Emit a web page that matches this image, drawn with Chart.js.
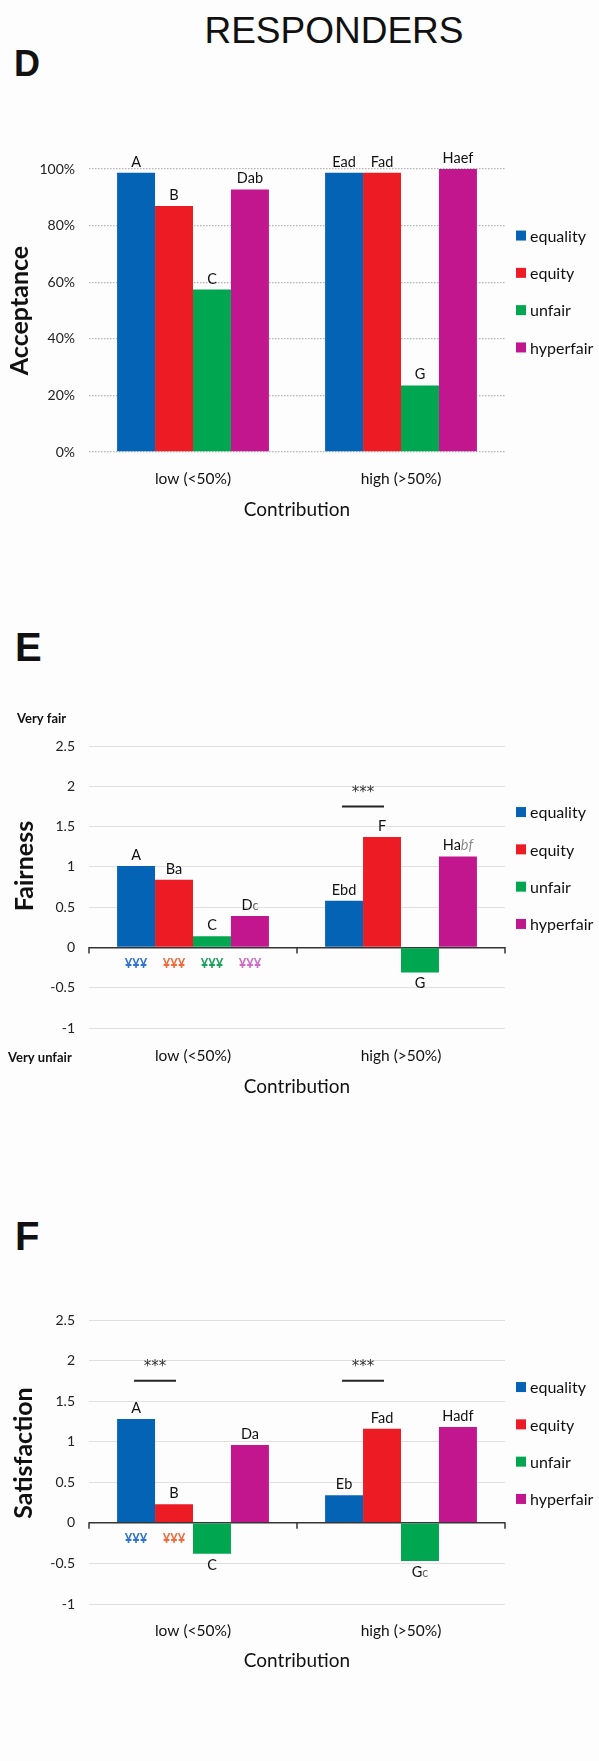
<!DOCTYPE html>
<html>
<head>
<meta charset="utf-8">
<title>Responders</title>
<script src="https://cdn.jsdelivr.net/npm/chart.js@4.4.0/dist/chart.umd.min.js"></script>
<style>
  html, body { margin: 0; padding: 0; background: #fdfdfd; }
  body { width: 599px; height: 1761px; position: relative; overflow: hidden; }
  .title { position: absolute; left: 0; width: 668px; top: 12px; text-align: center;
           font: 37px "Liberation Sans", Arial, sans-serif; line-height: 1; color: #111; }
  .panel { position: absolute; font: bold 40px "Liberation Sans", Arial, sans-serif; line-height: 1; color: #111; }
  canvas { position: absolute; left: 0; }
</style>
</head>
<body>
<div class="title">RESPONDERS</div>
<div class="panel" style="left:14px; top:46px; font-size:36px">D</div>
<div class="panel" style="left:15px; top:627px">E</div>
<div class="panel" style="left:15px; top:1216px">F</div>
<canvas id="chartD" width="599" height="400" style="top:129px"></canvas>
<canvas id="chartE" width="599" height="400" style="top:706px"></canvas>
<canvas id="chartF" width="599" height="400" style="top:1280px"></canvas>

<script>
// ---- data ----
const categories = ['low (<50%)', 'high (>50%)'];
const seriesNames = ['equality', 'equity', 'unfair', 'hyperfair'];
const seriesColors = ['#0563b6', '#ed1c24', '#00a650', '#c1168d'];
const markColors = ['#2f72d4', '#f26a3c', '#1aa15c', '#cf6cc6'];

// D - acceptance rate (%)
const acceptEquality  = [98.7, 98.7];
const acceptEquity    = [86.9, 98.7];
const acceptUnfair    = [57.4, 23.5];
const acceptHyperfair = [92.8, 100];
const acceptTicks = [0, 20, 40, 60, 80, 100];
const acceptLetters = [['A', 'Ead'], ['B', 'Fad'], ['C', 'G'], ['Dab', 'Haef']];

// E - perceived fairness
const fairEquality  = [1.01, 0.58];
const fairEquity    = [0.84, 1.37];
const fairUnfair    = [0.14, -0.31];
const fairHyperfair = [0.39, 1.13];
const fairLetters = [['A', 'Ebd'], ['Ba', 'F'], ['C', 'G'], ['D{c}', 'Ha[bf]']];
const fairWithin = [[true, false], [true, false], [true, false], [true, false]];
const fairBrackets = [{ group: 1, from: 0, to: 1, level: 1.75, stars: '***' }];

// F - satisfaction
const satisEquality  = [1.28, 0.34];
const satisEquity    = [0.23, 1.16];
const satisUnfair    = [-0.38, -0.47];
const satisHyperfair = [0.96, 1.18];
const satisLetters = [['A', 'Eb'], ['B', 'Fad'], ['C', 'G{c}'], ['Da', 'Hadf']];
const satisWithin = [[true, false], [true, false], [false, false], [false, false]];
const satisBrackets = [
  { group: 0, from: 0, to: 1, level: 1.75, stars: '***' },
  { group: 1, from: 0, to: 1, level: 1.75, stars: '***' }
];

const scoreTicks = [-1, -0.5, 0, 0.5, 1, 1.5, 2, 2.5];

// ---- helpers ----
const FONT = 'Lato, "Open Sans", sans-serif';
Chart.defaults.font.family = FONT;

// "Ha[bf]" -> italic grey part, "D{c}" -> small grey part
function parseLetters(str) {
  const out = [];
  const re = /\[([^\]]*)\]|\{([^}]*)\}|([^\[\{]+)/g;
  let m;
  while ((m = re.exec(str))) {
    if (m[1] !== undefined) out.push([m[1], 'i']);
    else if (m[2] !== undefined) out.push([m[2], 's']);
    else out.push([m[3], 'n']);
  }
  return out;
}
const segStyle = {
  n: { font: '14.5px ' + FONT, color: '#111' },
  i: { font: 'italic 14.5px ' + FONT, color: '#8c8c8c' },
  s: { font: '12.5px ' + FONT, color: '#666' }
};
function drawSegments(ctx, segs, cx, baseY) {
  let total = 0;
  const widths = segs.map(([t, s]) => { ctx.font = segStyle[s].font; const w = ctx.measureText(t).width; total += w; return w; });
  let x = cx - total / 2;
  ctx.textAlign = 'left';
  ctx.textBaseline = 'alphabetic';
  segs.forEach(([t, s], k) => {
    ctx.font = segStyle[s].font;
    ctx.fillStyle = segStyle[s].color;
    ctx.fillText(t, x, baseY);
    x += widths[k];
  });
}

const panelDecor = {
  id: 'panelDecor',
  afterDatasetsDraw(chart, args, opts) {
    const ctx = chart.ctx;
    const area = chart.chartArea;
    const ys = chart.scales.y;
    const xs = chart.scales.x;
    ctx.save();

    // short ticks on the zero line at category boundaries
    if (opts.zeroTicks) {
      const y0 = ys.getPixelForValue(0);
      const half = (xs.getPixelForValue(1) - xs.getPixelForValue(0)) / 2;
      const xsTicks = [xs.getPixelForValue(0) - half, xs.getPixelForValue(0) + half, xs.getPixelForValue(1) + half];
      ctx.strokeStyle = '#333';
      ctx.lineWidth = 1.5;
      ctx.beginPath();
      xsTicks.forEach(x => { ctx.moveTo(x, y0 - 0.5); ctx.lineTo(x, y0 + 6); });
      ctx.stroke();
    }

    // letter codes above / below each bar
    chart.data.datasets.forEach((ds, i) => {
      const meta = chart.getDatasetMeta(i);
      meta.data.forEach((bar, j) => {
        const v = ds.data[j];
        const segs = parseLetters(ds.letters[j]);
        const baseY = v >= 0 ? bar.y - 6 : bar.y + 16;
        drawSegments(ctx, segs, bar.x, baseY);
      });
    });

    // within-category markers under the zero line
    if (opts.within) {
      const ym = ys.getPixelForValue(-0.2);
      ctx.font = 'bold 13px ' + FONT;
      ctx.textAlign = 'center';
      ctx.textBaseline = 'middle';
      opts.within.forEach((row, i) => {
        const meta = chart.getDatasetMeta(i);
        row.forEach((on, j) => {
          if (!on) return;
          ctx.fillStyle = markColors[i];
          ctx.fillText('¥¥¥', meta.data[j].x, ym);
        });
      });
    }

    // significance brackets
    (opts.brackets || []).forEach(b => {
      const x0 = chart.getDatasetMeta(b.from).data[b.group].x - 2;
      const x1 = chart.getDatasetMeta(b.to).data[b.group].x + 2;
      const yl = ys.getPixelForValue(b.level);
      ctx.strokeStyle = '#222';
      ctx.lineWidth = 2;
      ctx.beginPath();
      ctx.moveTo(x0, yl);
      ctx.lineTo(x1, yl);
      ctx.stroke();
      ctx.font = '15px "DejaVu Sans", sans-serif';
      ctx.fillStyle = '#333';
      ctx.textAlign = 'center';
      ctx.textBaseline = 'alphabetic';
      ctx.fillText(b.stars, (x0 + x1) / 2, ys.getPixelForValue(1.98) + 9);
    });

    // legend
    const cy = (area.top + area.bottom) / 2 - 19;
    chart.data.datasets.forEach((ds, i) => {
      const ry = cy + (i - 1.5) * 37.3;
      ctx.fillStyle = ds.backgroundColor;
      ctx.fillRect(area.right + 11, ry - 5, 10, 10);
      ctx.font = '16px ' + FONT;
      ctx.fillStyle = '#111';
      ctx.textAlign = 'left';
      ctx.textBaseline = 'middle';
      ctx.fillText(ds.label, area.right + 25, ry + 1);
    });

    // axis titles
    ctx.fillStyle = '#111';
    ctx.font = '19px ' + FONT;
    ctx.textAlign = 'center';
    ctx.textBaseline = 'middle';
    ctx.fillText(opts.xTitle, (area.left + area.right) / 2, area.bottom + opts.xTitleDy);

    ctx.save();
    ctx.translate(opts.yTitleX, (area.top + area.bottom) / 2 + opts.yTitleDy);
    ctx.rotate(-Math.PI / 2);
    ctx.font = 'bold 25px ' + FONT;
    ctx.fillText(opts.yTitle, 0, 0);
    ctx.restore();

    // scale end captions
    if (opts.topCaption) {
      ctx.font = 'bold 13px ' + FONT;
      ctx.textAlign = 'left';
      ctx.fillText(opts.topCaption, 17, area.top - 27);
      ctx.fillText(opts.bottomCaption, 8, area.bottom + 30);
    }
    ctx.restore();
  }
};

function makeChart(id, cfg) {
  const datasets = seriesNames.map((name, i) => ({
    label: name,
    data: cfg.values[i],
    letters: cfg.letters[i],
    backgroundColor: seriesColors[i],
    borderWidth: 0,
    categoryPercentage: 0.73,
    barPercentage: 1.0
  }));
  return new Chart(document.getElementById(id), {
    type: 'bar',
    data: { labels: categories, datasets },
    options: {
      responsive: false,
      animation: false,
      devicePixelRatio: 1,
      layout: { padding: { top: 40, right: 94, left: 0, bottom: 0 } },
      plugins: {
        legend: { display: false },
        tooltip: { enabled: false },
        panelDecor: cfg.decor
      },
      scales: {
        x: {
          type: 'category',
          offset: true,
          grid: { display: false, drawTicks: false },
          border: { display: false },
          ticks: { color: '#111', font: { size: 15.5 }, padding: cfg.xPad },
          afterFit: s => { s.height = 400 - 40 - cfg.areaH; }
        },
        y: {
          min: cfg.min, max: cfg.max,
          afterBuildTicks: s => { s.ticks = cfg.ticks.map(v => ({ value: v })); },
          ticks: { color: '#222', font: { size: 14 }, padding: 14, callback: cfg.fmt },
          grid: cfg.grid,
          border: cfg.border,
          afterFit: s => { s.width = 89; }
        }
      }
    },
    plugins: [panelDecor]
  });
}

makeChart('chartD', {
  values: [acceptEquality, acceptEquity, acceptUnfair, acceptHyperfair],
  letters: acceptLetters,
  min: 0, max: 100, ticks: acceptTicks, areaH: 283, xPad: 18,
  fmt: v => v + '%',
  grid: { color: '#b4b4b4', lineWidth: 1.3, drawTicks: false },
  border: { display: false, dash: [1.5, 1.5] },
  decor: { xTitle: 'Contribution', xTitleDy: 58, yTitle: 'Acceptance', yTitleX: 20, yTitleDy: 0 }
});

const scoreGrid = {
  drawTicks: false,
  color: c => (c.tick && c.tick.value === 0 ? '#353535' : '#e0e0e0'),
  lineWidth: c => (c.tick && c.tick.value === 0 ? 1.5 : 1)
};

makeChart('chartE', {
  values: [fairEquality, fairEquity, fairUnfair, fairHyperfair],
  letters: fairLetters,
  min: -1, max: 2.5, ticks: scoreTicks, areaH: 282, xPad: 19,
  fmt: v => String(v),
  grid: scoreGrid,
  border: { display: false },
  decor: { xTitle: 'Contribution', xTitleDy: 59, yTitle: 'Fairness', yTitleX: 25, yTitleDy: -21,
           zeroTicks: true, within: fairWithin, brackets: fairBrackets,
           topCaption: 'Very fair', bottomCaption: 'Very unfair' }
});

makeChart('chartF', {
  values: [satisEquality, satisEquity, satisUnfair, satisHyperfair],
  letters: satisLetters,
  min: -1, max: 2.5, ticks: scoreTicks, areaH: 284, xPad: 18,
  fmt: v => String(v),
  grid: scoreGrid,
  border: { display: false },
  decor: { xTitle: 'Contribution', xTitleDy: 57, yTitle: 'Satisfaction', yTitleX: 24, yTitleDy: -9,
           zeroTicks: true, within: satisWithin, brackets: satisBrackets }
});
</script>
</body>
</html>
